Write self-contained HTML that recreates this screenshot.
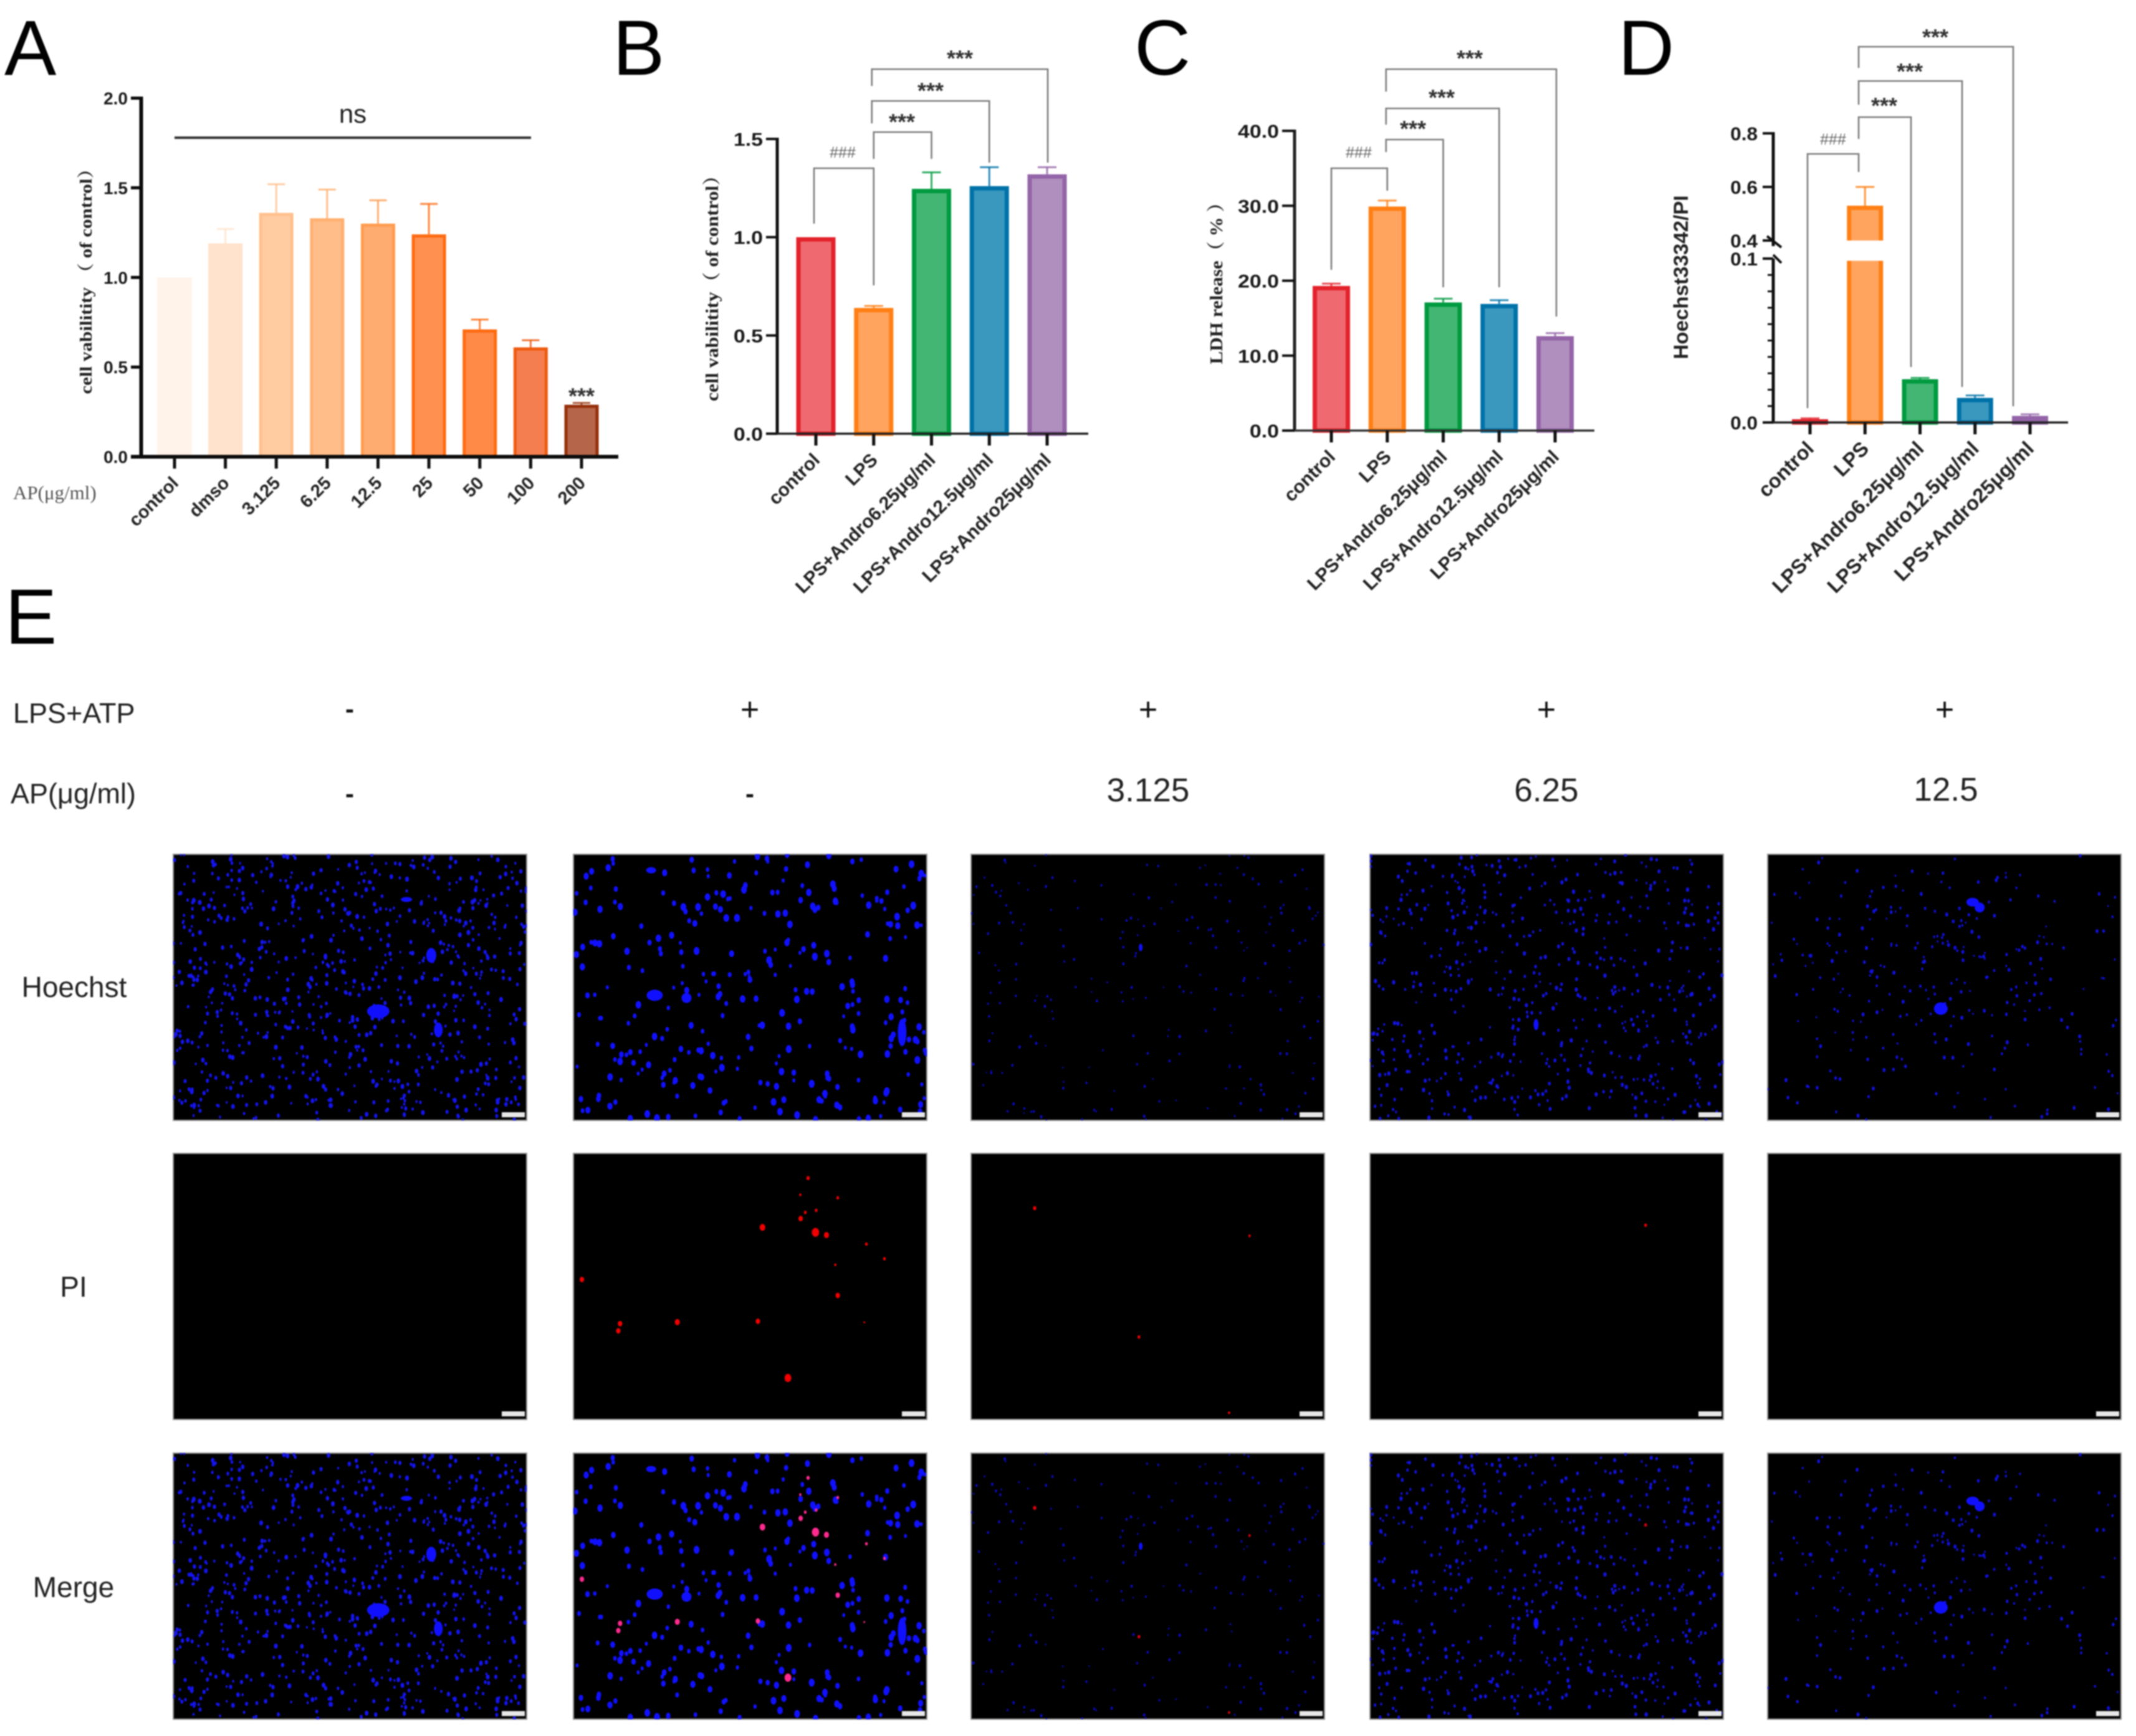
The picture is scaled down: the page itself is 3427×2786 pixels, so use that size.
<!DOCTYPE html>
<html lang="en">
<head>
<meta charset="utf-8">
<title>Cell viability, LDH release and Hoechst/PI staining</title>
<style>
html,body{margin:0;padding:0;background:#fff;}
#figure{display:block;width:3427px;height:2786px;filter:blur(1px);font-family:"Liberation Sans","Noto Sans CJK SC",sans-serif;}
.letter{font-size:125px;fill:#000;}
.elabel{font-size:45px;fill:#222;}
.mark{font-size:52px;fill:#111;text-anchor:middle;}
.dose{font-size:53px;fill:#222;text-anchor:middle;}
.row{font-size:46px;fill:#222;text-anchor:middle;}
</style>
</head>
<body>
<svg id="figure" xmlns="http://www.w3.org/2000/svg" width="3427" height="2786" viewBox="0 0 3427 2786">
  <rect x="0" y="0" width="3427" height="2786" fill="#ffffff"/>
  <text class="letter" x="7" y="120">A</text>
  <text class="letter" x="983" y="120">B</text>
  <text class="letter" x="1820" y="120">C</text>
  <text class="letter" x="2596" y="120">D</text>
  <text class="letter" x="8" y="1033">E</text>

  <g>
    <text x="566" y="197" font-size="42" fill="#222" text-anchor="middle">ns</text>
    <line x1="280" y1="221" x2="852" y2="221" stroke="#333" stroke-width="4"/>
    <text x="21" y="801" font-family="Liberation Serif, serif" font-size="31" fill="#555">AP(μg/ml)</text>
  </g>

  <g>
    <text class="elabel" x="21" y="1160">LPS+ATP</text>
    <text class="elabel" x="17" y="1289">AP(μg/ml)</text>
    <text class="mark" x="561" y="1152" style="font-weight:bold;font-size:42px">-</text>
    <text class="mark" x="1203" y="1156">+</text>
    <text class="mark" x="1842" y="1156">+</text>
    <text class="mark" x="2481" y="1156">+</text>
    <text class="mark" x="3120" y="1156">+</text>
    <text class="mark" x="561" y="1288" style="font-weight:bold;font-size:42px">-</text>
    <text class="mark" x="1203" y="1288" style="font-weight:bold;font-size:42px">-</text>
    <text class="dose" x="1842" y="1286">3.125</text>
    <text class="dose" x="2481" y="1286">6.25</text>
    <text class="dose" x="3122" y="1285">12.5</text>
    <text class="row" x="119" y="1600">Hoechst</text>
    <text class="row" x="118" y="2081">PI</text>
    <text class="row" x="118" y="2563">Merge</text>
  </g>
  <g id="charts"></g>
  <g id="micrographs"></g>
</svg>

<script>
// ---- chart data ----
const categoriesA = ['control', 'dmso', '3.125', '6.25', '12.5', '25', '50', '100', '200'];
const valuesA = [1.0, 1.19, 1.36, 1.33, 1.30, 1.24, 0.71, 0.61, 0.29];
const errorTopsA = [1.0, 1.27, 1.52, 1.49, 1.43, 1.41, 0.765, 0.65, 0.30];
const tickLabelsA = ['0.0', '0.5', '1.0', '1.5', '2.0'];

const categoriesLps = ['control', 'LPS', 'LPS+Andro6.25μg/ml', 'LPS+Andro12.5μg/ml', 'LPS+Andro25μg/ml'];

const valuesB = [1.0, 0.64, 1.246, 1.26, 1.32];
const errorTopsB = [1.0, 0.65, 1.33, 1.356, 1.356];
const tickLabelsB = ['0.0', '0.5', '1.0', '1.5'];

const valuesC = [19.3, 29.9, 17.1, 16.9, 12.6];
const errorTopsC = [19.6, 30.7, 17.6, 17.4, 13.0];
const tickLabelsC = ['0.0', '10.0', '20.0', '30.0', '40.0'];

const valuesD = [0.002, 0.53, 0.0264, 0.015, 0.004];
const errorTopsD = [0.0025, 0.60, 0.0272, 0.0165, 0.005];
const tickLabelsD = ['0.0', '0.1', '0.4', '0.6', '0.8'];
const minorTicksD = [0.01, 0.02, 0.03, 0.04, 0.05, 0.06, 0.07, 0.08, 0.09];

// ---- styles ----
const fillsA = ['#FFF3EA', '#FFE3CC', '#FFCBA0', '#FFBD8A', '#FFAC70', '#FF9050', '#FF8A48', '#F57E50', '#B5664A'];
const strokesA = ['#FFF3EA', '#FFE3CC', '#FFC08E', '#FFB070', '#FF9C50', '#FF6A10', '#FF6A10', '#EE5A10', '#962F0A'];
const fillsLps = ['#EE6A70', '#FFA45F', '#43B673', '#3A98BF', '#B08FBE'];
const strokesLps = ['#E3222B', '#FF7F14', '#009A3F', '#0072A8', '#9464A8'];

const NS = 'http://www.w3.org/2000/svg';
const chartsRoot = document.getElementById('charts');
function svgEl(tag, attrs, parent) {
  const el = document.createElementNS(NS, tag);
  for (const k in attrs) el.setAttribute(k, attrs[k]);
  (parent || chartsRoot).appendChild(el);
  return el;
}
function linearScale(v0, v1, p0, p1) {
  return function (v) { return p0 + (v - v0) * (p1 - p0) / (v1 - v0); };
}

function drawBars(g, name, cats, vals, errs, fills, strokes, xOf, yOf, y0, barW, sw, capW, brokenFrom) {
  cats.forEach(function (cat, i) {
    const cx = xOf(i);
    if (errs[i] > vals[i]) {
      const stem = svgEl('line', { x1: cx, x2: cx, y1: yOf(vals[i]), y2: yOf(errs[i]), stroke: strokes[i], 'stroke-width': 3, opacity: 0.8 }, g);
      
      
      const cap = svgEl('line', { x1: cx - capW / 2, x2: cx + capW / 2, y1: yOf(errs[i]), y2: yOf(errs[i]), stroke: strokes[i], 'stroke-width': 3, opacity: 0.8 }, g);
      
      
    }
    const top = yOf(vals[i]);
    if (brokenFrom && vals[i] > brokenFrom.high) {
      const lowerSeg = svgEl('rect', { x: cx - barW / 2 + sw / 2, y: yOf(brokenFrom.low), width: barW - sw, height: y0 - yOf(brokenFrom.low), fill: fills[i], stroke: strokes[i], 'stroke-width': sw }, g);
      
      
      const upperSeg = svgEl('rect', { x: cx - barW / 2 + sw / 2, y: top + sw / 2, width: barW - sw, height: yOf(brokenFrom.high) - top + sw / 2, fill: fills[i], stroke: strokes[i], 'stroke-width': sw }, g);
      
      
      const gap = svgEl('rect', { x: cx - barW / 2 - 2, y: yOf(brokenFrom.high), width: barW + 4, height: yOf(brokenFrom.low) - yOf(brokenFrom.high) + sw / 2, fill: '#ffffff' }, g);
      
      
    } else {
      const h = Math.max(y0 - top - sw / 2, 1);
      const bar = svgEl('rect', { x: cx - barW / 2 + sw / 2, y: top + sw / 2, width: barW - sw, height: h, fill: fills[i], stroke: strokes[i], 'stroke-width': sw }, g);
      
      
    }
  });
}

function drawTickLabel(g, name, label, x, y, fontSize, stretch) {
  const t = svgEl('text', { x: x, y: y, 'font-size': fontSize, 'font-weight': 'bold', fill: '#1a1a1a', 'text-anchor': 'end' }, g);
  
  
  t.textContent = label;
  if (stretch !== 1) {
    t.setAttribute('textLength', t.getComputedTextLength() * stretch);
    t.setAttribute('lengthAdjust', 'spacingAndGlyphs');
  }
}

function drawCategoryLabels(g, name, cats, xOf, y0, fontSize, angle) {
  cats.forEach(function (cat, i) {
    const x = xOf(i) + 8, y = y0 + 44;
    const t = svgEl('text', { x: x, y: y, 'font-size': fontSize, 'font-weight': 'bold', fill: '#222', 'text-anchor': 'end', transform: 'rotate(' + angle + ' ' + x + ' ' + y + ')' }, g);
    
    
    t.textContent = cat;
    const tick = svgEl('line', { x1: xOf(i), x2: xOf(i), y1: y0, y2: y0 + 19, stroke: '#111', 'stroke-width': 5 }, g);
    
    
  });
}

function drawYTitle(g, name, text, x, yc, len, family, size) {
  const t = svgEl('text', { x: x, y: yc, 'font-family': family, 'font-size': size, 'font-weight': 'bold', fill: '#222', 'text-anchor': 'middle', transform: 'rotate(-90 ' + x + ' ' + yc + ')', textLength: len, lengthAdjust: 'spacingAndGlyphs' }, g);
  
  
  t.textContent = text;
}

function drawBracket(g, name, xL, yL, yTop, xR, yR, label, labelX, labelY) {
  const path = svgEl('path', { d: 'M' + xL + ' ' + yL + 'V' + yTop + 'H' + xR + 'V' + yR, fill: 'none', stroke: '#7d7d7d', 'stroke-width': 2.6 }, g);
  
  
  const isStar = label === '***';
  const t = svgEl('text', { x: labelX, y: labelY + (isStar ? 17 : 8), 'font-size': isStar ? 36 : 25, 'font-weight': isStar ? 'bold' : 'normal', fill: isStar ? '#333' : '#666', 'text-anchor': 'middle' }, g);
  
  
  t.textContent = label;
}

const SERIF = '"Liberation Serif","Noto Serif CJK SC",serif';
const SANS = '"Liberation Sans",sans-serif';

// ---- Panel A ----
(function () {
  const g = svgEl('g', {});
  
  
  const y0 = 733, axisX = 226.5;
  const yOf = linearScale(0, 2, y0, 157.5);
  const xOf = linearScale(0, 8, 280, 933);
  drawBars(g, 'a', categoriesA, valuesA, errorTopsA, fillsA, strokesA, xOf, yOf, y0, 55, 5, 28);
  const yAxis = svgEl('line', { x1: axisX, x2: axisX, y1: yOf(2) - 2.5, y2: y0 + 2, stroke: '#0a0a0a', 'stroke-width': 6 }, g);
  
  
  const xAxis = svgEl('line', { x1: 210, x2: 992, y1: y0, y2: y0, stroke: '#0a0a0a', 'stroke-width': 6 }, g);
  
  
  tickLabelsA.forEach(function (l, i) {
    const y = yOf(Number(l));
    const tick = svgEl('line', { x1: 210, x2: axisX, y1: y, y2: y, stroke: '#0a0a0a', 'stroke-width': 5 }, g);
    
    
    drawTickLabel(g, 'a-y-tick-label-' + i, l, 205, y + 10, 28, 1);
  });
  drawCategoryLabels(g, 'a', categoriesA, xOf, y0, 29, -45);
  drawYTitle(g, 'a', 'cell vabilitity （ of control）', 147, 444, 377, SERIF, 27);
  const sig = svgEl('text', { x: xOf(8), y: 648, 'font-size': 36, 'font-weight': 'bold', fill: '#333', 'text-anchor': 'middle' }, g);
  
  
  sig.textContent = '***';
})();

// ---- Panel B ----
(function () {
  const g = svgEl('g', {});
  
  
  const y0 = 696, axisX = 1247;
  const yOf = linearScale(0, 1.5, y0, 223);
  const xOf = linearScale(0, 4, 1309, 1680);
  drawBars(g, 'b', categoriesLps, valuesB, errorTopsB, fillsLps, strokesLps, xOf, yOf, y0, 63, 7, 30);
  const yAxis = svgEl('line', { x1: axisX, x2: axisX, y1: yOf(1.5) - 2, y2: y0, stroke: '#111', 'stroke-width': 5 }, g);
  
  
  const xAxis = svgEl('line', { x1: 1229, x2: 1746, y1: y0, y2: y0, stroke: '#222', 'stroke-width': 3.5 }, g);
  
  
  tickLabelsB.forEach(function (l, i) {
    const y = yOf(Number(l));
    const tick = svgEl('line', { x1: 1229, x2: axisX, y1: y, y2: y, stroke: '#111', 'stroke-width': 4 }, g);
    
    
    drawTickLabel(g, 'b-y-tick-label-' + i, l, 1224, y + 11, 30, 1.13);
  });
  drawCategoryLabels(g, 'b', categoriesLps, xOf, y0, 30, -45);
  drawYTitle(g, 'b', 'cell vabilitity（ of control）', 1152, 455, 378, SERIF, 29);
  drawBracket(g, 'b-bracket-control-lps', xOf(0) - 3, 359, 270, xOf(1), 458, '###', 1352, 245);
  drawBracket(g, 'b-bracket-lps-dose1', xOf(1), 255, 212, xOf(2), 255, '***', 1447, 191);
  drawBracket(g, 'b-bracket-lps-dose2', xOf(1) - 3, 198, 162, xOf(3), 261, '***', 1493, 141);
  drawBracket(g, 'b-bracket-lps-dose3', xOf(1) - 3, 138, 111, xOf(4) + 1, 261, '***', 1540, 89);
})();

// ---- Panel C ----
(function () {
  const g = svgEl('g', {});
  
  
  const y0 = 691, axisX = 2077;
  const yOf = linearScale(0, 40, y0, 210);
  const xOf = linearScale(0, 4, 2136, 2495);
  drawBars(g, 'c', categoriesLps, valuesC, errorTopsC, fillsLps, strokesLps, xOf, yOf, y0, 60, 7, 30);
  const yAxis = svgEl('line', { x1: axisX, x2: axisX, y1: yOf(40) - 2, y2: y0, stroke: '#222', 'stroke-width': 5 }, g);
  
  
  const xAxis = svgEl('line', { x1: 2057, x2: 2558, y1: y0, y2: y0, stroke: '#333', 'stroke-width': 3.5 }, g);
  
  
  tickLabelsC.forEach(function (l, i) {
    const y = yOf(Number(l));
    const tick = svgEl('line', { x1: 2057, x2: axisX, y1: y, y2: y, stroke: '#111', 'stroke-width': 4 }, g);
    
    
    drawTickLabel(g, 'c-y-tick-label-' + i, l, 2052, y + 11, 30, 1.13);
  });
  drawCategoryLabels(g, 'c', categoriesLps, xOf, y0, 30, -45);
  drawYTitle(g, 'c', 'LDH release（ % ）', 1961, 447, 275, SERIF, 29);
  drawBracket(g, 'c-bracket-control-lps', xOf(0), 433, 270, xOf(1), 306, '###', 2180, 245);
  drawBracket(g, 'c-bracket-lps-dose1', xOf(1) - 2, 244, 224, xOf(2), 461, '***', 2267, 202);
  drawBracket(g, 'c-bracket-lps-dose2', xOf(1) - 2, 200, 174, xOf(3), 461, '***', 2313, 152);
  drawBracket(g, 'c-bracket-lps-dose3', xOf(1) - 2, 147, 111, xOf(4) + 2, 508, '***', 2358, 89);
})();

// ---- Panel D ----
(function () {
  const g = svgEl('g', {});
  
  
  const y0 = 678, axisX = 2845;
  const lower = linearScale(0, 0.1, y0, 415);
  const upper = linearScale(0.4, 0.8, 386, 214);
  const yOf = function (v) { return v >= 0.4 ? upper(v) : lower(v); };
  const xOf = linearScale(0, 4, 2904, 3257);
  drawBars(g, 'd', categoriesLps, valuesD, errorTopsD, fillsLps, strokesLps, xOf, yOf, y0, 58, 7, 30, { low: 0.1, high: 0.4 });
  const axisUpper = svgEl('line', { x1: axisX, x2: axisX, y1: upper(0.8) - 2, y2: 395, stroke: '#111', 'stroke-width': 5 }, g);
  
  
  const axisLower = svgEl('line', { x1: axisX, x2: axisX, y1: 415, y2: y0, stroke: '#111', 'stroke-width': 5 }, g);
  
  
  const break1 = svgEl('line', { x1: 2835, y1: 379, x2: 2858, y2: 397, stroke: '#111', 'stroke-width': 4 }, g);
  
  
  const break2 = svgEl('line', { x1: 2845, y1: 409, x2: 2858, y2: 422, stroke: '#111', 'stroke-width': 4 }, g);
  
  
  const xAxis = svgEl('line', { x1: 2828, x2: 3318, y1: y0, y2: y0, stroke: '#222', 'stroke-width': 3.5 }, g);
  
  
  tickLabelsD.forEach(function (l, i) {
    const y = yOf(Number(l));
    const tick = svgEl('line', { x1: 2828, x2: axisX, y1: y, y2: y, stroke: '#111', 'stroke-width': 4 }, g);
    
    
    drawTickLabel(g, 'd-y-tick-label-' + i, l, 2820, y + 11, 30, 1.05);
  });
  minorTicksD.forEach(function (v, i) {
    const tick = svgEl('line', { x1: 2836, x2: axisX, y1: yOf(v), y2: yOf(v), stroke: '#111', 'stroke-width': 3 }, g);
    
    
  });
  drawCategoryLabels(g, 'd', categoriesLps, xOf, y0, 32.5, -45);
  drawYTitle(g, 'd', 'Hoechst33342/PI', 2708, 445, 263, SANS, 32);
  drawBracket(g, 'd-bracket-control-lps', 2900, 655, 247, 2982, 276, '###', 2941, 224);
  drawBracket(g, 'd-bracket-lps-dose1', 2982, 223, 188, 3066, 589, '***', 3023, 165);
  drawBracket(g, 'd-bracket-lps-dose2', 2982, 168, 130, 3148, 621, '***', 3064, 110);
  drawBracket(g, 'd-bracket-lps-dose3', 2982, 109, 75, 3230, 652, '***', 3105, 55);
})();

// ---- Micrographs (fluorescence texture, not chart data) ----
const micrographRoot = document.getElementById('micrographs');
const imageLefts = [278, 920, 1558, 2198, 2836];
const imageTops = [1371, 1851, 2332];
const rowNames = ['hoechst', 'pi', 'merge'];
const imageW = 567, imageH = 427;
const fieldStyles = [
  { count: 820, r: 2.6, color: '#1414f0', seed: 11 },
  { count: 310, r: 4.0, color: '#1010ff', seed: 23 },
  { count: 230, r: 1.7, color: '#0a0ac8', seed: 37 },
  { count: 620, r: 2.3, color: '#1212e0', seed: 41 },
  { count: 520, r: 2.1, color: '#1010e0', seed: 59, focus: [0.42, 0.42, 0.32] }
];
const blobs = [
  [[0.58, 0.59, 18, 11], [0.73, 0.38, 8, 12], [0.75, 0.66, 7, 12], [0.66, 0.17, 9, 4]],
  [[0.23, 0.53, 13, 9], [0.93, 0.67, 7, 22], [0.32, 0.54, 8, 8], [0.22, 0.06, 8, 5]],
  [[0.48, 0.35, 3, 6]],
  [[0.47, 0.64, 4, 9]],
  [[0.49, 0.58, 11, 10], [0.58, 0.18, 10, 7], [0.60, 0.20, 8, 8]]
];
const redSpots = [
  [],
  [[.664,.093,3],[.642,.156,2],[.748,.167,2.5],[.687,.214,2.5],[.656,.222,2.5],[.643,.245,4],[.535,.278,5],[.685,.297,6.5],[.716,.307,4.5],[.829,.341,2.5],[.880,.396,2.5],[.741,.419,2],[.024,.474,4],[.748,.534,4],[.132,.640,4],[.127,.667,4],[.294,.634,4.5],[.522,.631,4],[.823,.635,1.5],[.607,.844,6]],
  [[.18,.206,3],[.788,.31,2],[.475,.69,2.5],[.73,.975,2]],
  [[.78,.27,2.5]],
  []
];

function makeRng(seed) {
  let s = seed * 2654435761 % 4294967296;
  return function () {
    s = (s * 1664525 + 1013904223) % 4294967296;
    return s / 4294967296;
  };
}

function buildBlue(col, parent, left, top) {
  const st = fieldStyles[col];
  const rnd = makeRng(st.seed);
  for (let i = 0; i < st.count; i++) {
    const fx = rnd(), fy = rnd(), k = 0.7 + rnd() * 0.7, keep = rnd();
    if (st.focus) {
      const dx = fx - st.focus[0], dy = fy - st.focus[1];
      const d2 = (dx * dx + dy * dy) / (st.focus[2] * st.focus[2]);
      if (keep > 0.25 + Math.exp(-d2)) continue;
    }
    const dot = svgEl('ellipse', { cx: (left + fx * imageW).toFixed(1), cy: (top + fy * imageH).toFixed(1), rx: (st.r * k * 0.85).toFixed(1), ry: (st.r * k * 1.15).toFixed(1), fill: st.color }, parent);
    
    
  }
  blobs[col].forEach(function (b) {
    const blob = svgEl('ellipse', { cx: left + b[0] * imageW, cy: top + b[1] * imageH, rx: b[2], ry: b[3], fill: '#1010ff' }, parent);
    
    
  });
}

function buildRed(col, parent, left, top, color) {
  redSpots[col].forEach(function (p) {
    const spot = svgEl('ellipse', { cx: left + p[0] * imageW, cy: top + p[1] * imageH, rx: p[2] * 0.9, ry: p[2] * 1.1, fill: color }, parent);
    
    
  });
}

rowNames.forEach(function (rowName, r) {
  imageLefts.forEach(function (left, c) {
    const top = imageTops[r];
    const g = svgEl('g', {}, micrographRoot);
    
    
    const clipId = 'clip-' + r + '-' + c;
    const clip = svgEl('clipPath', { id: clipId }, g);
    svgEl('rect', { x: left, y: top, width: imageW, height: imageH }, clip);
    const bg = svgEl('rect', { x: left, y: top, width: imageW, height: imageH, fill: '#000', stroke: '#999', 'stroke-width': 2 }, g);
    
    
    const content = svgEl('g', { 'clip-path': 'url(#' + clipId + ')' }, g);
    
    
    if (r !== 1) buildBlue(c, content, left, top);
    if (r === 1) buildRed(c, content, left, top, '#f00000');
    if (r === 2) buildRed(c, content, left, top, c === 1 ? '#ff2a90' : '#e00010');
    const bar = svgEl('rect', { x: left + imageW - 40, y: top + imageH - 13, width: 37, height: 8, fill: '#e8e8e8' }, g);
    
    
  });
});
</script>
</body>
</html>
